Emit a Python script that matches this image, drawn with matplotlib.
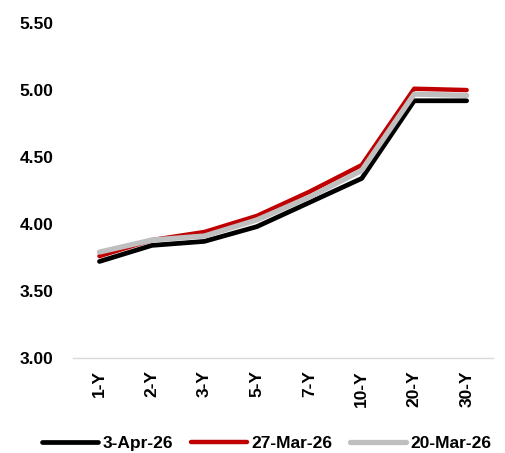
import matplotlib.pyplot as plt
import numpy as np

plt.rcParams['font.family'] = ['Liberation Sans', 'DejaVu Sans']
plt.rcParams['font.weight'] = 'bold'

tenors = ["1-Y", "2-Y", "3-Y", "5-Y", "7-Y", "10-Y", "20-Y", "30-Y"]
apr03 = [3.72, 3.84, 3.87, 3.98, 4.16, 4.34, 4.92, 4.92]
mar27 = [3.76, 3.88, 3.94, 4.06, 4.24, 4.44, 5.01, 5.00]
mar20 = [3.79, 3.88, 3.91, 4.03, 4.20, 4.40, 4.97, 4.96]

fig = plt.figure(figsize=(5.05, 4.53), dpi=100)
ax = fig.add_axes([0.145, 0.21, 0.831, 0.739])

x = np.arange(len(tenors))
ax.plot(x, apr03, color="black", lw=3.4, solid_capstyle="round", label="3-Apr-26")
ax.plot(x, mar27, color="#c00000", lw=3.2, solid_capstyle="round", label="27-Mar-26")
ax.plot(x, mar20, color="#bfbfbf", lw=3.8, solid_capstyle="round", label="20-Mar-26")

ax.set_xlim(-0.5, len(tenors) - 0.5)
ax.set_ylim(3.0, 5.5)
ax.set_yticks(np.arange(3.0, 5.51, 0.5))
ax.set_yticklabels([f"{v:.2f}" for v in np.arange(3.0, 5.51, 0.5)], fontsize=12.5, fontweight="bold")
ax.set_xticks(x)
ax.set_xticklabels(tenors, rotation=90, fontsize=12.5, fontweight="bold")
ax.tick_params(axis="both", length=0, pad=9)
ax.tick_params(axis="y", pad=14)

for s in ["top", "right", "left"]:
    ax.spines[s].set_visible(False)
ax.spines["bottom"].set_color("#d9d9d9")
ax.spines["bottom"].set_linewidth(1)

leg = ax.legend(loc="lower center", bbox_to_anchor=(0.462, -0.30), ncol=3, frameon=False,
                prop={"size": 12.5, "weight": "bold"}, handlelength=3.2, handletextpad=0.3,
                columnspacing=1.0, borderaxespad=0)

fig.savefig("out.png", dpi=100)
